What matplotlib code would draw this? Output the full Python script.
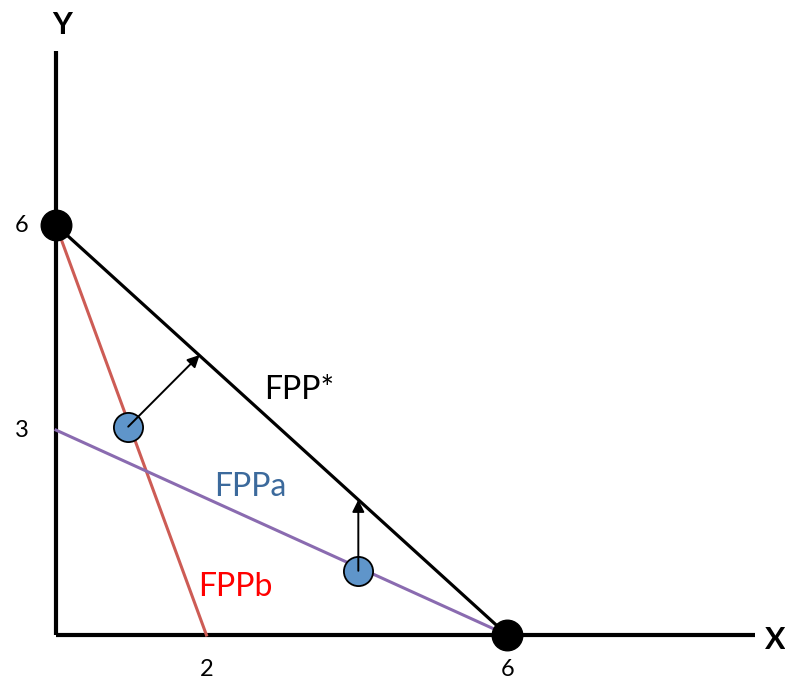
import matplotlib.pyplot as plt

# frontier intercepts
fpp_star_x = [0, 6]
fpp_star_y = [6, 0]
fppa_x = [0, 6]
fppa_y = [3, 0]
fppb_x = [0, 2]
fppb_y = [6, 0]

# endpoints (black) and inefficient points (blue)
corner_x = [0, 6]
corner_y = [6, 0]
pts_x = [0.96, 4.02]
pts_y = [3.05, 0.94]
# arrow tips on FPP*
tips_x = [1.91, 4.02]
tips_y = [4.1, 1.98]

xtick_vals = [2, 6]
ytick_vals = [3, 6]

fig = plt.figure(figsize=(7.85, 6.8), dpi=100)
ax = fig.add_axes([0, 0, 1, 1])
ax.set_xlim(-0.745, 9.694)
ax.set_ylim(-0.659, 9.297)
ax.axis('off')

font = ['Lato', 'DejaVu Sans']

# axes
ax.plot([0, 9.3], [0, 0], color='black', lw=3, solid_capstyle='butt', zorder=2)
ax.plot([0, 0], [0, 8.55], color='black', lw=3, solid_capstyle='butt', zorder=2)

# frontiers
ax.plot(fppb_x, fppb_y, color='#cd5c55', lw=2.2, zorder=3)
ax.plot(fppa_x, fppa_y, color='#8a6bb0', lw=2.2, zorder=3)
ax.plot(fpp_star_x, fpp_star_y, color='black', lw=2.3, zorder=3)

# points
ax.plot(pts_x, pts_y, 'o', ms=21, color='#5f95ca', mec='black', mew=1.3, zorder=5)
ax.plot(corner_x, corner_y, 'o', ms=22, color='black', zorder=6)

# arrows
for x0, y0, x1, y1 in zip(pts_x, pts_y, tips_x, tips_y):
    ax.annotate('', xy=(x1, y1), xytext=(x0, y0),
                arrowprops=dict(arrowstyle='-|>', color='black', lw=1.4,
                                mutation_scale=18, shrinkA=0, shrinkB=0),
                zorder=7)

# labels
ax.text(3.24, 3.59, 'FPP*', fontsize=23, color='black', ha='center', va='center', family=font)
ax.text(2.58, 2.17, 'FPPa', fontsize=23, color='#3c6a9c', ha='center', va='center', family=font)
ax.text(2.38, 0.70, 'FPPb', fontsize=23, color='#ff0000', ha='center', va='center', family=font)

for v in ytick_vals:
    ax.text(-0.46, v, str(v), fontsize=17, ha='center', va='center', family=font)
for v in xtick_vals:
    ax.text(v, -0.51, str(v), fontsize=17, ha='center', va='center', family=font)

ax.text(0.08, 8.93, 'Y', fontsize=22, fontweight='bold', ha='center', va='center', family=font)
ax.text(9.56, -0.07, 'X', fontsize=22, fontweight='bold', ha='center', va='center', family=font)

fig.savefig('out.png', dpi=100)
